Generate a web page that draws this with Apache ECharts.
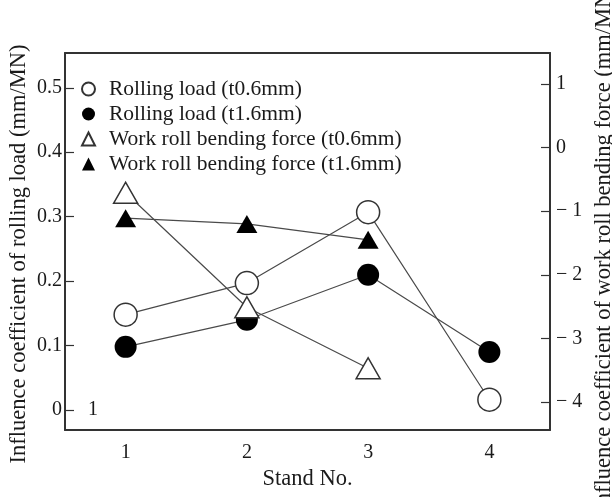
<!DOCTYPE html>
<html>
<head>
<meta charset="utf-8">
<script src="https://cdn.jsdelivr.net/npm/echarts@6/dist/echarts.min.js"></script>
<style>
  html, body { margin: 0; padding: 0; background: #fff; }
  #chart { width: 612px; height: 497px; }
</style>
</head>
<body>
<div id="chart"></div>
<script>
// Stand numbers along the mill
const stands = ['1', '2', '3', '4'];

// Influence coefficient of rolling load (mm/MN), left axis
const rollLoadT06 = [0.148, 0.197, 0.307, 0.016];
const rollLoadT16 = [0.098, 0.140, 0.210, 0.090];

// Influence coefficient of work roll bending force (mm/MN), right axis (stands 1-3)
const bendT06 = [-0.71, -2.51, -3.47];
const bendT16 = [-1.11, -1.20, -1.45];

// Tick values of the two vertical axes
const leftTicks = [0, 0.1, 0.2, 0.3, 0.4, 0.5];
const rightTicks = [-4, -3, -2, -1, 0, 1];

const seriesNames = [
  'Rolling load (t0.6mm)',
  'Rolling load (t1.6mm)',
  'Work roll bending force (t0.6mm)',
  'Work roll bending force (t1.6mm)'
];

const leftTitle = 'Influence coefficient of rolling load (mm/MN)';
const rightTitle = 'Influence coefficient of work roll bending force (mm/MN)';

const FONT = 'Liberation Serif';
const INK = '#1a1a1a';
const FRAME = '#333';
const LINE = '#4a4a4a';

const chart = echarts.init(document.getElementById('chart'), null, { renderer: 'canvas' });

// scatter markers are drawn fully opaque (scatter defaults to 0.8)
const openStyle = { color: '#fff', borderColor: '#333', borderWidth: 1.5, opacity: 1 };
const solidStyle = { color: '#000', borderColor: '#000', borderWidth: 0, opacity: 1 };

function connector(data, yIdx) {
  return {
    type: 'line', yAxisIndex: yIdx, data: data, symbol: 'none', z: 1,
    lineStyle: { color: LINE, width: 1.2 }, silent: true, legendHoverLink: false
  };
}

const frameTick = { inside: true, alignWithLabel: true, length: 9, lineStyle: { color: FRAME, width: 1.2 } };

chart.setOption({
  animation: false,
  backgroundColor: '#fff',
  textStyle: { fontFamily: FONT, color: INK },
  grid: { left: 65, right: 62, top: 53, bottom: 67, containLabel: false },
  legend: {
    data: seriesNames,
    orient: 'vertical',
    left: 76, top: 73,
    itemWidth: 13, itemHeight: 13,
    itemGap: 3,
    selectedMode: false,
    textStyle: { fontFamily: FONT, fontSize: 21.5, color: INK, lineHeight: 21.5, padding: [0, 0, 0, 9] }
  },
  xAxis: [
    {
      type: 'category', data: stands, position: 'bottom', boundaryGap: true,
      axisLine: { onZero: false, lineStyle: { color: FRAME, width: 2 } },
      axisTick: frameTick,
      axisLabel: { fontFamily: FONT, fontSize: 20, color: INK, margin: 13 },
      name: 'Stand No.', nameLocation: 'middle', nameGap: 36,
      nameTextStyle: { fontFamily: FONT, fontSize: 22.5, color: INK }
    },
    {
      type: 'category', data: stands, position: 'top', boundaryGap: true,
      axisLine: { onZero: false, lineStyle: { color: FRAME, width: 2 } },
      axisTick: frameTick,
      axisLabel: { show: false }
    }
  ],
  yAxis: [
    {
      type: 'value', position: 'left', min: -0.031, max: 0.554,
      splitLine: { show: false },
      axisLine: { show: true, onZero: false, lineStyle: { color: FRAME, width: 2 } },
      axisTick: { show: true, inside: true, length: 9, customValues: leftTicks, lineStyle: { color: FRAME, width: 1.2 } },
      axisLabel: {
        customValues: leftTicks, margin: 3, fontFamily: FONT, fontSize: 20, color: INK,
        formatter: v => (v === 0 ? '0' : v.toFixed(1))
      }
    },
    {
      type: 'value', position: 'right', min: -4.44, max: 1.487,
      splitLine: { show: false },
      axisLine: { show: true, onZero: false, lineStyle: { color: FRAME, width: 2 } },
      axisTick: { show: true, inside: true, length: 9, customValues: rightTicks, lineStyle: { color: FRAME, width: 1.2 } },
      axisLabel: {
        customValues: rightTicks, margin: 6, fontFamily: FONT, fontSize: 20, color: INK,
        formatter: v => (v < 0 ? '\u2212 ' + (-v) : String(v))
      }
    }
  ],
  graphic: [
    {
      type: 'text', x: 19, y: 254, rotation: Math.PI / 2, silent: true,
      style: { text: leftTitle, fontFamily: FONT, fontSize: 22.5, fill: INK, align: 'center', verticalAlign: 'middle' }
    },
    {
      type: 'text', x: 604, y: 248, rotation: Math.PI / 2, silent: true,
      style: { text: rightTitle, fontFamily: FONT, fontSize: 22.5, fill: INK, align: 'center', verticalAlign: 'middle' }
    },
    {
      type: 'text', left: 88, top: 400, silent: true,
      style: { text: '1', fontFamily: FONT, fontSize: 20, fill: INK }
    }
  ],
  series: [
    connector(rollLoadT06, 0),
    connector(rollLoadT16, 0),
    connector(bendT06, 1),
    connector(bendT16, 1),
    {
      name: seriesNames[1], type: 'scatter', yAxisIndex: 0, data: rollLoadT16,
      symbol: 'circle', symbolSize: 22, itemStyle: solidStyle, z: 3
    },
    {
      name: seriesNames[0], type: 'scatter', yAxisIndex: 0, data: rollLoadT06,
      symbol: 'circle', symbolSize: 23, itemStyle: openStyle, z: 4
    },
    {
      name: seriesNames[3], type: 'scatter', yAxisIndex: 1, data: bendT16,
      symbol: 'triangle', symbolSize: [21, 18], itemStyle: solidStyle, z: 5
    },
    {
      name: seriesNames[2], type: 'scatter', yAxisIndex: 1, data: bendT06,
      symbol: 'triangle', symbolSize: [24, 21], itemStyle: openStyle, z: 6
    }
  ]
});
</script>
</body>
</html>
